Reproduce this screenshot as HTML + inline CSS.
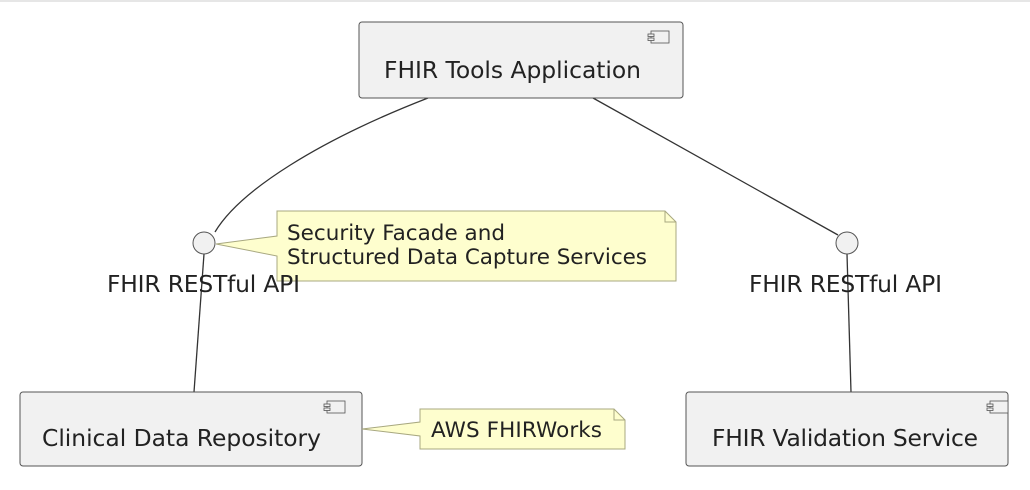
<!DOCTYPE html>
<html><head><style>body{margin:0;background:#fff}svg{display:block}</style></head><body>
<svg width="1030" height="490" xmlns="http://www.w3.org/2000/svg" font-family="DejaVu Sans, Liberation Sans, sans-serif">
<line x1="0" y1="1" x2="1030" y2="1" stroke="#ccc"/>
<g fill="none" stroke="#333" stroke-width="1.3">
<path d="M428,98 C320,140 240,190 215,232"/>
<path d="M593,98 L838,235"/>
<line x1="204" y1="254" x2="194" y2="392"/>
<line x1="847" y1="254" x2="851" y2="392"/>
</g>
<g fill="#f1f1f1" stroke="#555" stroke-width="1">
<rect x="359" y="22" width="324" height="76" rx="3"/>
<rect x="20" y="392" width="342" height="74" rx="3"/>
<rect x="686" y="392" width="322" height="74" rx="3"/>
</g>
<g fill="#f1f1f1" stroke="#555" stroke-width="0.8">
<rect x="651" y="31" width="18" height="12"/><rect x="648" y="34" width="6" height="2.5"/><rect x="648" y="38" width="6" height="2.5"/>
<rect x="327" y="401" width="18" height="12"/><rect x="324" y="404" width="6" height="2.5"/><rect x="324" y="408" width="6" height="2.5"/>
<rect x="990" y="401" width="18" height="12"/><rect x="987" y="404" width="6" height="2.5"/><rect x="987" y="408" width="6" height="2.5"/>
</g>
<g fill="#f1f1f1" stroke="#555" stroke-width="1">
<circle cx="204" cy="243" r="11"/>
<circle cx="847" cy="243" r="11"/>
</g>
<g fill="#fefece" stroke="#a8a880" stroke-width="1">
<path d="M277,211 H665 L676,222 V281 H277 V256 L216,244 L277,236 Z"/>
<path d="M665,211 V222 H676" fill="none"/>
<path d="M420,409 H614 L625,420 V449 H420 V436 L362,429 L420,422 Z"/>
<path d="M614,409 V420 H625" fill="none"/>
</g>
<g fill="#222" font-size="23.4">
<text x="384" y="78" textLength="257">FHIR Tools Application</text>
<text x="42" y="446" textLength="279">Clinical Data Repository</text>
<text x="712" y="446" textLength="266">FHIR Validation Service</text>
<text x="107" y="292" textLength="193">FHIR RESTful API</text>
<text x="749" y="292" textLength="193">FHIR RESTful API</text>
</g>
<g fill="#222" font-size="21.5">
<text x="287" y="240" textLength="218">Security Facade and</text>
<text x="287" y="264" textLength="360">Structured Data Capture Services</text>
<text x="431" y="437" textLength="171">AWS FHIRWorks</text>
</g>
</svg>
</body></html>
